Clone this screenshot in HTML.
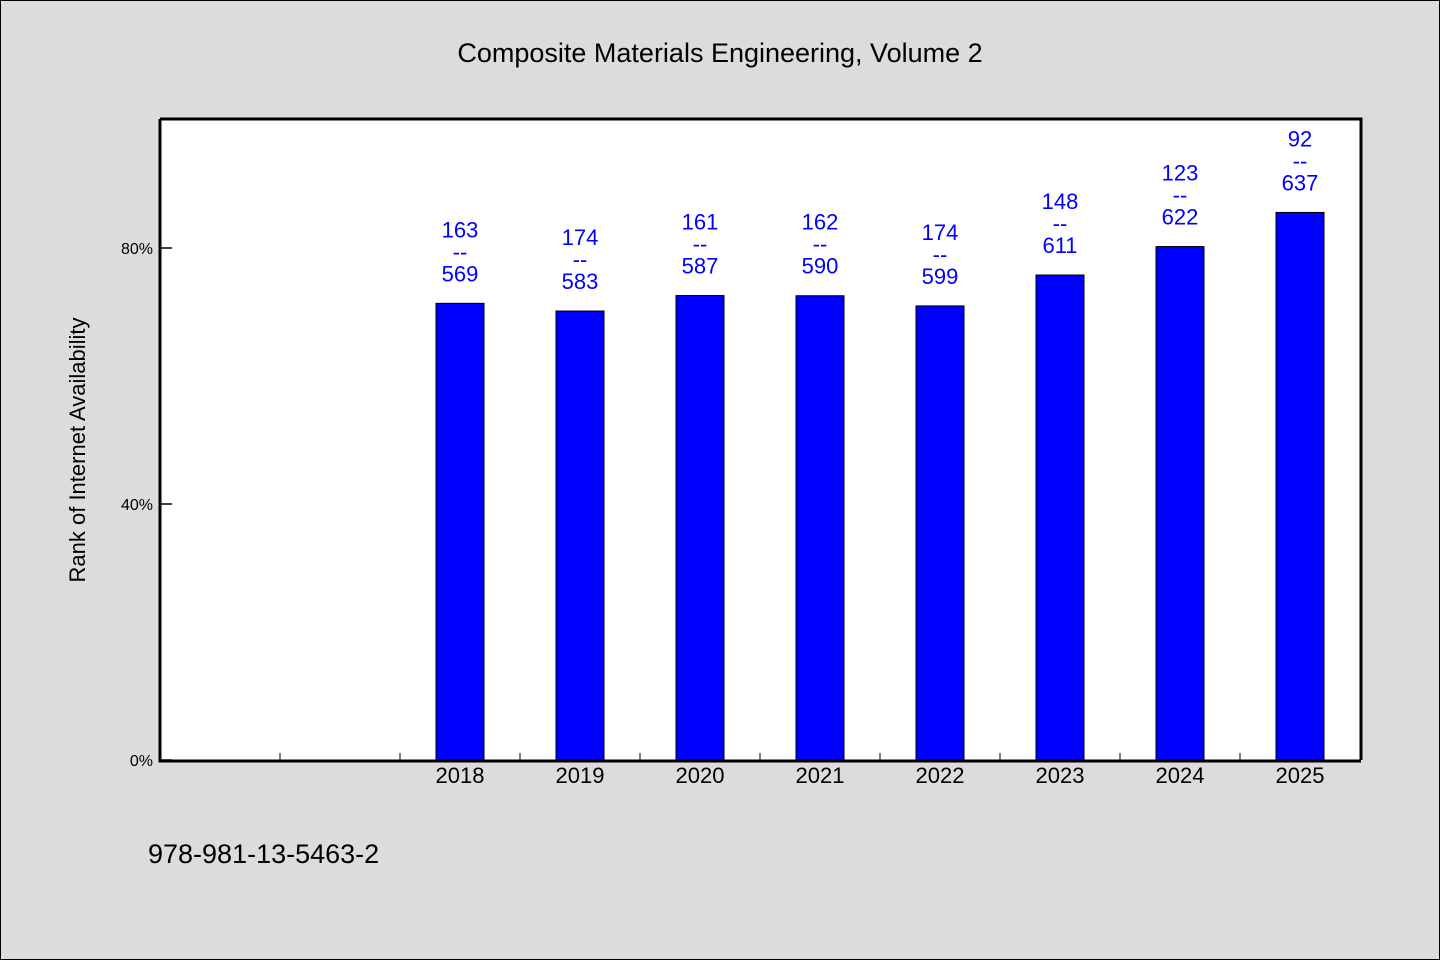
<!DOCTYPE html>
<html><head><meta charset="utf-8"><style>
html,body{margin:0;padding:0;background:#dcdcdc;}
svg{display:block;font-family:"WenQuanYi Zen Hei","Liberation Sans",sans-serif;}
</style></head><body>
<svg id="chart" width="1440" height="960">
<rect x="0.5" y="0.5" width="1439" height="959" fill="#dcdcdc" stroke="#000"/>
<text x="720" y="62" text-anchor="middle" font-size="27">Composite Materials Engineering, Volume 2</text>
<rect x="160" y="120" width="1200" height="640" fill="#fff"/>
<g id="marks"></g>
<path d="M160,119 H1361 V760 M160,119 V761 H1361" fill="none" stroke="#000" stroke-width="3"/>
<text transform="translate(85,450) rotate(-90)" text-anchor="middle" font-size="22">Rank of Internet Availability</text>
<text x="148" y="863" font-size="27">978-981-13-5463-2</text>
</svg>
<script>
const categories=["","","2018","2019","2020","2021","2022","2023","2024","2025"];
const ranks=[null,null,163,174,161,162,174,148,123,92];
const totals=[null,null,569,583,587,590,599,611,622,637];
const yTicks=[0,40,80];
const x0=160,slot=120,yBase=760,pxPerPct=6.4;
const xCenter=i=>x0+slot*(i+0.5);
const yScale=p=>yBase-p*pxPerPct;
const NS="http://www.w3.org/2000/svg";
const g=document.getElementById('marks');
function mk(tag,attrs,txt){const e=document.createElementNS(NS,tag);for(const k in attrs)e.setAttribute(k,attrs[k]);if(txt!==undefined)e.textContent=txt;g.appendChild(e);return e;}
yTicks.forEach(t=>{
  const y=yScale(t);
  const l=mk('line',{x1:160,x2:172,y1:y,y2:y,stroke:'#000','stroke-width':1.5});
  
  
  const tx=mk('text',{x:153,y:y+6,'text-anchor':'end','font-size':16},t+'%');
  
  
});
for(let i=1;i<categories.length;i++){
  const x=x0+slot*i;
  const l=mk('line',{x1:x,x2:x,y1:760,y2:753,stroke:'#000','stroke-width':1});
  
  
}
categories.forEach((c,i)=>{
  if(ranks[i]==null)return;
  const cx=xCenter(i);
  const pct=(1-ranks[i]/totals[i])*100;
  const top=yScale(pct);
  const r=mk('rect',{x:cx-24,y:top,width:48,height:yBase-top,fill:'#0000ff',stroke:'#000','stroke-width':1});
  
  
  const xl=mk('text',{x:cx,y:783,'text-anchor':'middle','font-size':22},c);
  
  
  const lines=[String(ranks[i]),'--',String(totals[i])];
  lines.forEach((s,k)=>{
    const t=mk('text',{x:cx,y:top-66+k*22,'text-anchor':'middle','font-size':22,fill:'#0000ff'},s);
    
    
  });
});
</script>
</body></html>
